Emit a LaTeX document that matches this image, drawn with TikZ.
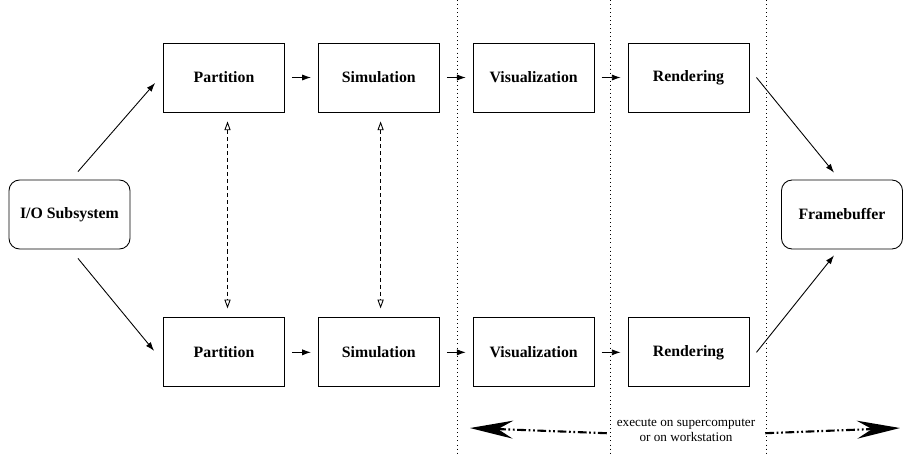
\documentclass[tikz,border=0pt]{standalone}
\usepackage{fontspec}
\setmainfont{Liberation Serif}
\usetikzlibrary{arrows.meta, positioning, calc}

\begin{document}
\begin{tikzpicture}[x=0.02cm, y=-0.02cm, node distance=0.66cm,
                stage/.style={rectangle, minimum width=2.42cm, minimum height=1.38cm, text centered, draw, line width=0.5pt, align=center, font=\fontsize{9}{11}\selectfont\bfseries},
                device/.style={stage, rounded corners=6pt},
                flow/.style={draw, line width=0.5pt, -{Latex[length=5pt,width=3.5pt]}},
                pipe/.style={flow, shorten <=0.14cm, shorten >=0.14cm},
                sync/.style={draw, dashed, dash pattern=on 2.3pt off 1.7pt, line width=0.5pt, {Triangle[open,length=5pt,width=3.5pt]}-{Triangle[open,length=5pt,width=3.5pt]}, shorten <=0.18cm, shorten >=0.18cm},
                divider/.style={draw, line width=0.5pt, dash pattern=on 0.5pt off 1.8pt},
                span/.style={draw, line width=1.2pt, dash pattern=on 5pt off 1.5pt on 1pt off 1.5pt on 1pt off 1.5pt, -{Stealth[length=0.86cm, width=0.36cm, inset=0.3cm]}, shorten <=0.16cm}
            ]

            \useasboundingbox (0,0) rectangle (903,454);

            % separators
            \foreach \x in {457,610,766}
                \draw[divider] (\x,0) -- (\x,454);

            \node (io) at (69.5,214.5) [device] {I/O Subsystem};
            \node (fb) at (842,214.5) [device] {Framebuffer};

            % upper pipeline
            \node (p1) at (224,77.5) [stage] {Partition};
            \node (s1) [stage, right=of p1] {Simulation};
            \node (v1) [stage, right=of s1] {Visualization};
            \node (r1) [stage, right=of v1] {Rendering};

            % lower pipeline
            \node (p2) [stage, below=4.1cm of p1] {Partition};
            \node (s2) [stage, right=of p2] {Simulation};
            \node (v2) [stage, right=of s2] {Visualization};
            \node (r2) [stage, right=of v2] {Rendering};

            \foreach \a/\b in {p1/s1, s1/v1, v1/r1, p2/s2, s2/v2, v2/r2}
                \draw[pipe] (\a) -- (\b);

            \draw[flow] ([shift={(8.5,-8)}]io.north) -- ([shift={(-8,5.5)}]p1.west);
            \draw[flow] ([shift={(8.5,9)}]io.south) -- ([shift={(-9,-1.5)}]p2.west);
            \draw[flow] ([shift={(7,0)}]r1.east) -- ([shift={(-8,-7)}]fb.north);
            \draw[flow] ([shift={(7,0)}]r2.east) -- ([shift={(-8,6)}]fb.south);

            \draw[sync] ([xshift=2]p1.south) -- ([xshift=2]p2.north);
            \draw[sync] ([xshift=1]s1.south) -- ([xshift=1]s2.north);

            % where the stages run
            \node (exec) at (686,430) [align=center, inner sep=1pt, font=\fontsize{7.5}{8.6}\selectfont] {execute on supercomputer\\or on workstation};
            \coordinate (lefttip) at (470,428);
            \coordinate (righttip) at (900,428);
            \draw[span] ([yshift=-2]exec.west) -- (lefttip);
            \draw[span] ([yshift=-2]exec.east) -- (righttip);
        \end{tikzpicture}
\end{document}
